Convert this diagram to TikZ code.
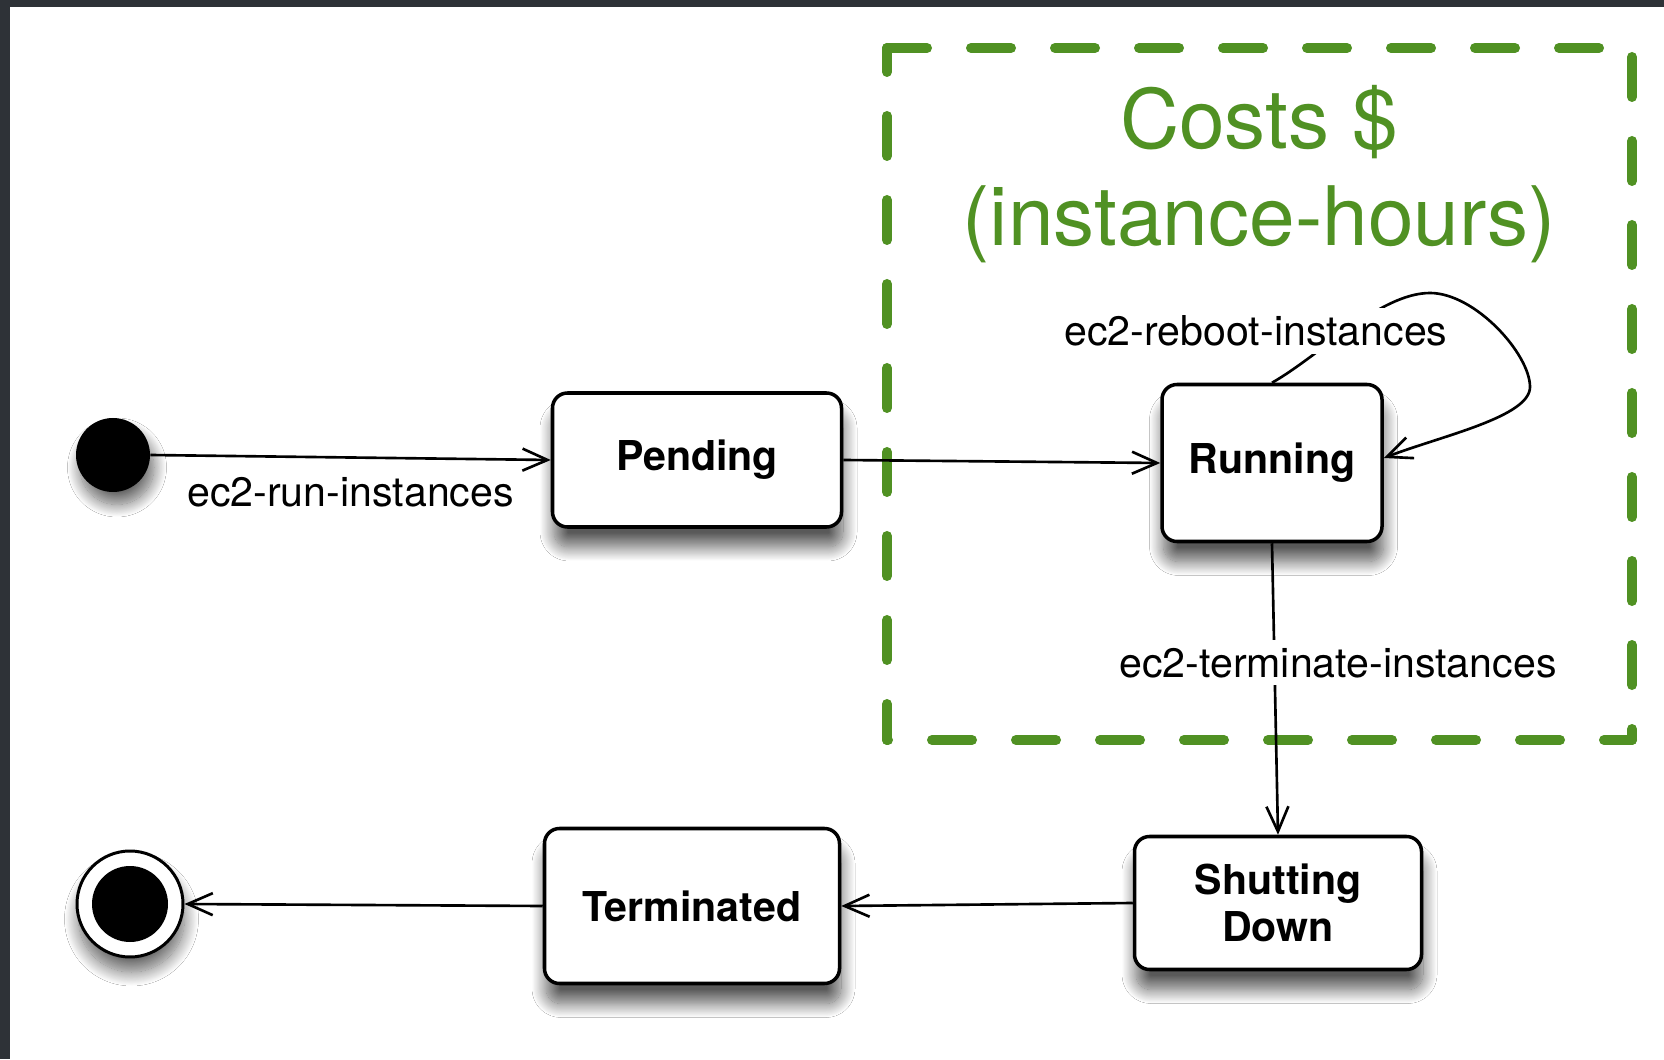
\documentclass[tikz,border=0pt]{standalone}
\usepackage{fontspec}
\setmainfont{TeX Gyre Heros}
\usetikzlibrary{arrows.meta, shadows.blur}
\definecolor{costgreen}{RGB}{80,145,35}
\definecolor{framegray}{RGB}{46,50,55}

\begin{document}
\begin{tikzpicture}[
  statebox/.style={draw, line width=2pt, rounded corners=0.3cm, fill=white, align=center,
    font=\fontsize{23.4}{26.6}\selectfont\bfseries,
    blur shadow={shadow xshift=0.03cm, shadow yshift=-0.4cm, shadow blur radius=0.28cm,
      shadow blur steps=20, shadow opacity=65}},
  startstate/.style={circle, fill=black, minimum size=1.48cm, inner sep=0pt,
    blur shadow={shadow xshift=0.08cm, shadow yshift=-0.25cm, shadow blur radius=0.25cm,
      shadow blur steps=20, shadow opacity=60}},
  endstate/.style={circle, draw, line width=1.7pt, fill=white, minimum size=2.12cm, inner sep=0pt,
    blur shadow={shadow xshift=0.03cm, shadow yshift=-0.3cm, shadow blur radius=0.28cm,
      shadow blur steps=20, shadow opacity=60}},
  edgelabel/.style={fill=white, inner sep=0.15cm, font=\fontsize{23.4}{28}\selectfont},
  trans/.style={draw, line width=1.5pt, -{Straight Barb[length=0.5cm, width=0.44cm]}},
  costline/.style={draw=costgreen, line width=0.2cm, line cap=round, dash pattern=on 0.8cm off 0.88cm}
]
  \fill[framegray] (0,0) rectangle (33.28,21.18);
  \fill[white] (0.2,0) rectangle (33.28,21.04);
  \useasboundingbox (0,0) rectangle (33.28,21.18);

  % billed region
  \coordinate (tl) at (17.74,20.22);
  \coordinate (tr) at (32.64,20.22);
  \coordinate (br) at (32.64,6.38);
  \coordinate (bl) at (17.74,6.38);
  \draw[costline] (tl) -- (tr);
  \draw[costline, dash phase=1.5cm] (tr) -- (br);
  \draw[costline, dash phase=0.24cm] (br) -- (bl);
  \draw[costline, dash phase=0.08cm] (bl) -- (tl);
  \node[text=costgreen, font=\fontsize{46.7}{56}\selectfont, anchor=base] (costs) at (25.18,18.2) {Costs \$};
  \node[text=costgreen, font=\fontsize{46.7}{56}\selectfont, anchor=base] (costunit) at (25.18,16.26) {(instance-hours)};

  \node[startstate] (init) at (2.26,12.08) {};
  \node[statebox, minimum width=5.78cm, minimum height=2.68cm] (pending) at (13.94,11.98) {Pending};
  \node[statebox, minimum width=4.4cm, minimum height=3.14cm] (running) at (25.44,11.92) {Running};
  \node[statebox, minimum width=5.74cm, minimum height=2.66cm] (shutting) at (25.56,3.12) {Shutting\\Down};
  \node[statebox, minimum width=5.9cm, minimum height=3.1cm] (terminated) at (13.84,3.06) {Terminated};
  \node[endstate] (final) at (2.6,3.1) {};
  \fill (final.center) circle (0.76cm);

  \draw[trans] (init.east) -- node[edgelabel, midway, yshift=-0.69cm] {ec2-run-instances} (pending.west);
  \draw[trans] (pending.east) -- (running.west);
  \draw[trans] (running.north) .. controls (26.4,14.07) and (27.6,15.32) .. (28.6,15.32)
    .. controls (29.5,15.32) and (30.6,14.1) .. (30.6,13.44)
    .. controls (30.6,12.84) and (28.82,12.46) .. ([yshift=0.1cm]running.east);
  \node[edgelabel] (reboot) at (25.12,14.56) {ec2-reboot-instances};
  \draw[trans] (running.south) -- node[edgelabel, pos=0.41, xshift=1.27cm] {ec2-terminate-instances} (shutting.north);
  \draw[trans] (shutting.west) -- (terminated.east);
  \draw[trans] (terminated.west) -- (final.east);
\end{tikzpicture}
\end{document}
